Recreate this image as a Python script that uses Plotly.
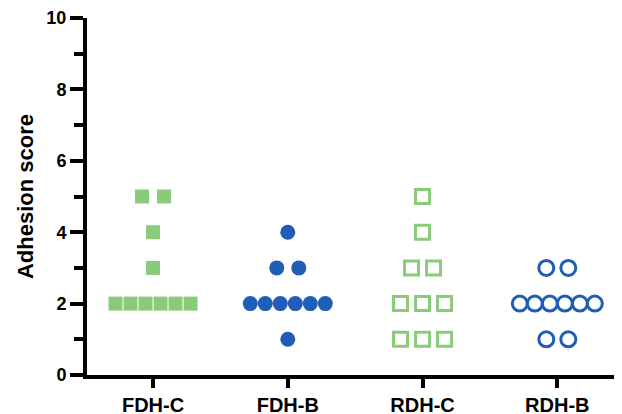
import plotly.graph_objects as go
from collections import Counter

categories = ["FDH-C", "FDH-B", "RDH-C", "RDH-B"]
fdh_c = [5, 5, 4, 3, 2, 2, 2, 2, 2, 2]
fdh_b = [4, 3, 3, 2, 2, 2, 2, 2, 2, 1]
rdh_c = [5, 4, 3, 3, 2, 2, 2, 1, 1, 1]
rdh_b = [3, 3, 2, 2, 2, 2, 2, 2, 1, 1]
y_ticks = [0, 2, 4, 6, 8, 10]

GREEN = "#8acb7b"
BLUE = "#1f5db6"
PX_PER_CAT = 134.7

def swarm(values, center):
    counts = Counter(values)
    seen = Counter()
    xs = []
    for v in values:
        n = counts[v]
        i = seen[v]
        seen[v] += 1
        step_px = min(22.0, 90.0 / n)
        xs.append(center + (i - (n - 1) / 2) * step_px / PX_PER_CAT)
    return xs

series = [
    (fdh_c, "square", GREEN, 0),
    (fdh_b, "circle", BLUE, 1),
    (rdh_c, "square-open", GREEN, 2),
    (rdh_b, "circle-open", BLUE, 3),
]

fig = go.Figure()
for vals, sym, col, idx in series:
    open_ = sym.endswith("open")
    fig.add_trace(go.Scatter(
        x=swarm(vals, idx), y=vals, mode="markers",
        marker=dict(symbol=sym, size=14 if "square" in sym else 15,
                    color=col,
                    line=dict(color=col, width=3 if open_ else 0)),
        showlegend=False, hoverinfo="skip", cliponaxis=False,
    ))

FAM = "Liberation Sans, Arial, sans-serif"
yfont = dict(family=FAM, size=18, color="black", weight="bold")
xfont = dict(family=FAM, size=20, color="black", weight="bold")

# The page body has an 8px default margin, so the figure is sized to fill the rest.
fig.update_layout(
    width=614, height=406,
    margin=dict(l=79, r=0, t=10, b=39, autoexpand=False),
    paper_bgcolor="white", plot_bgcolor="white",
    font=yfont,
    xaxis=dict(
        range=[-0.49, 3.48], tickmode="array",
        tickvals=list(range(len(categories))), ticktext=categories,
        showgrid=False, zeroline=False,
        showline=True, linecolor="black", linewidth=4,
        ticks="outside", ticklen=9, tickwidth=4, tickcolor="black",
        tickfont=xfont, automargin=False,
    ),
    yaxis=dict(
        range=[0, 10], tickmode="array", tickvals=y_ticks,
        showgrid=False, zeroline=False,
        showline=True, linecolor="black", linewidth=4,
        ticks="outside", ticklen=13, tickwidth=4, tickcolor="black",
        minor=dict(ticks="outside", ticklen=9, tickwidth=4, tickcolor="black",
                   tickvals=[1, 3, 5, 7, 9], showgrid=False),
        tickfont=yfont, automargin=False,
        title=dict(text="Adhesion score",
                   font=dict(family=FAM, size=22, color="black", weight="bold"),
                   standoff=8),
    ),
)

fig.write_html("out.html")
